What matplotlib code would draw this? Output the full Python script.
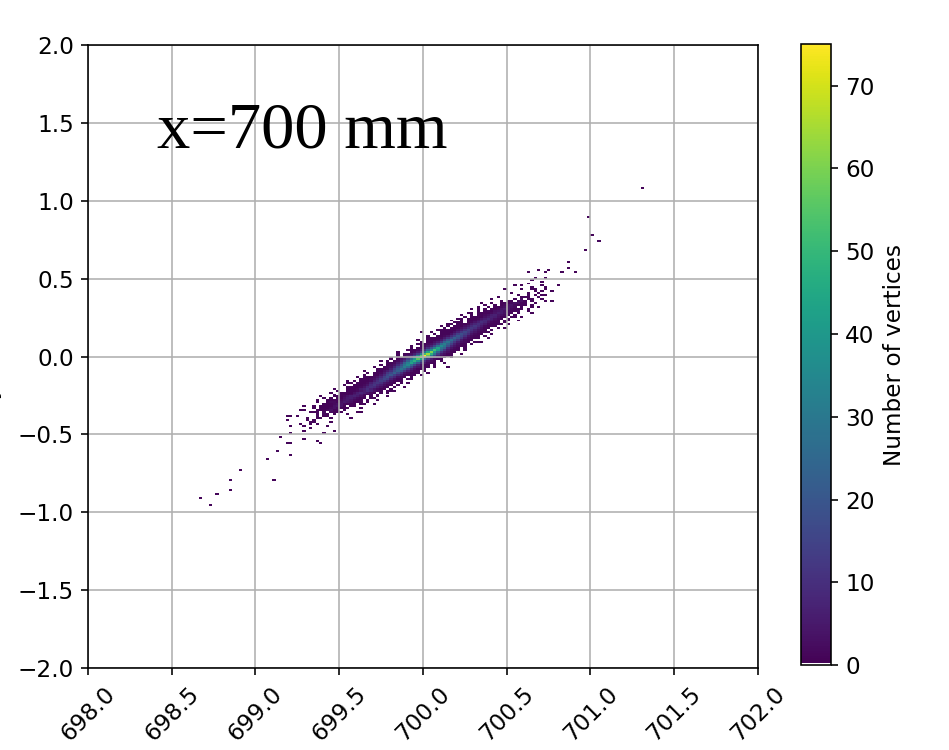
import numpy as np
import matplotlib
matplotlib.use("Agg")
import matplotlib.pyplot as plt
from matplotlib.colors import ListedColormap

plt.rcParams["font.size"] = 11.5

# binning of the vertex histogram (0.02 mm in x, 0.0125 mm in y)
x_range = (698.0, 702.0)
y_range = (-2.0, 2.0)
n_xbins = 200
n_ybins = 320

# single-character codes for the cell counts in the band rows
level_codes = "123456789abcdefghijklmnopqrstu"
level_counts = [1, 2, 3, 4, 5, 6, 7, 8, 9,
                10, 12, 14, 16, 18, 20, 23, 26, 29, 32, 36, 40,
                44, 48, 52, 56, 60, 64, 68, 72, 75]

# dense band: (y bin index, first x bin index, counts along the row), '.' = empty
band_rows = [
    (124, 54, "......1...1........."),
    (125, 55, "........1..1........"),
    (126, 56, "..........11....1..."),
    (127, 57, "..1.....1.1........."),
    (128, 58, ".......1..12..1.....1"),
    (129, 59, "1..1.....2.1........."),
    (130, 60, "........1.21.1...1..."),
    (131, 61, ".....111.2.21.1....1."),
    (132, 62, ".11...1112311.1......"),
    (133, 63, "....1.111232111...1.."),
    (134, 64, "1..1.11113431.11....."),
    (135, 65, ".....1112342111.11..1"),
    (136, 66, "..1..11213543111.1..."),
    (137, 67, ".1..11112454211.1..1."),
    (138, 68, "..1.1.113564211.11..."),
    (139, 69, "1...1112467531.1.1..1"),
    (140, 70, "...1.1112575211.1...."),
    (141, 71, ".1..11113686421.1.1.."),
    (142, 72, "..1..11124697321.111."),
    (143, 73, "1...111257a74211.1..."),
    (144, 74, "...1111248a95311.1..1"),
    (145, 75, ".1..111249b86311.1..."),
    (146, 76, "..1.11126aba5321.1.1."),
    (147, 77, "1.1.11126acb73111...."),
    (148, 78, "...111237bdc7311.11.."),
    (149, 79, ".1.111248ceb8321.1..."),
    (150, 80, "..1..1149dfc952111.1."),
    (151, 81, "..1.1125bdgda42111..1"),
    (152, 82, "1...1136aegfb6311.1.."),
    (153, 83, "...11126cfigc73111..."),
    (154, 84, ".1..1238dgjhd74211.1."),
    (155, 85, "..1.1249eikhd8311.1.."),
    (156, 86, "...1125agjmjfa5211..1"),
    (157, 87, "1.1.126bglnkfa421.1.."),
    (158, 88, "..1.136chlpmhb5211..."),
    (159, 89, ".1.1136bjnrojc7311.1."),
    (160, 90, "..1.248dkpupjd73111.."),
    (161, 91, "...1137cjornic6311..1"),
    (162, 92, "1...125bhmqlgb6311..."),
    (163, 93, "..11125agkolgb5211.1."),
    (164, 94, "..1.124afjmig9421.1.."),
    (165, 95, ".1..1248dikie84211..."),
    (166, 96, "..111237chjgc7311.1.."),
    (167, 97, "..1.1136bgifb6321.11."),
    (168, 98, "1..11125bfheb5211...."),
    (169, 99, "..111125adgeb52111..1"),
    (170, 100, ".1..11249cfda4211.1.."),
    (171, 101, "..1.11138cec94211..1."),
    (172, 102, "1..111137bdb742111..."),
    (173, 103, ".11111136aca6321.1..."),
    (174, 104, "..1.111359ba6311..1.1"),
    (175, 105, "1.1.111359b952111...."),
    (176, 106, ".11.111258a8521111.1."),
    (177, 107, "..111.1247a84211.1..."),
    (178, 108, "1..1.1124796421.11..1"),
    (179, 109, ".11.11124686321.1...."),
    (180, 110, "..1.11113575311.11.1."),
    (181, 111, "1..1.1123674321.1...."),
    (182, 112, ".11.11112465321.1...1"),
    (183, 113, "...1.11134532111..1.."),
    (184, 114, "1.1.1.1124542111.1..."),
    (185, 115, ".1..1.1113432.1..1.1."),
    (186, 116, "..1..1.12342111.1...."),
    (187, 117, "1..1..11123211..1...."),
    (188, 118, ".....1.11.231.1...1.1"),
    (189, 119, ".1......1.3.21..1...."),
    (190, 120, "..1......121..1......"),
    (191, 121, ".......1..2.1..1....."),
    (192, 122, ".........1..1........"),
    (193, 123, "..........1.1..1....."),
    (194, 124, "........1...1........"),
    (195, 125, "...........1........."),
    (196, 126, ".........1..........."),
]

# isolated vertices away from the band (x, y in mm) and their counts
tail_x = [698.67, 698.73, 698.76, 698.84, 698.85, 698.90, 699.06, 699.11,
          699.13, 699.14, 699.18, 699.20, 699.20, 699.21, 699.20, 699.28,
          699.29, 699.32, 699.36, 699.37, 699.39, 699.40, 699.43, 699.43,
          699.44, 699.46, 699.48, 699.51, 699.55, 699.60, 699.63,
          699.98, 699.85, 700.14, 700.34,
          700.39, 700.43, 700.47, 700.48, 700.52, 700.55, 700.56, 700.57,
          700.58, 700.59, 700.62, 700.62, 700.62, 700.64, 700.64, 700.65,
          700.66, 700.67, 700.68, 700.68, 700.70, 700.71, 700.72, 700.73,
          700.75, 700.80, 700.82, 700.86, 700.87, 700.90, 700.97, 700.99,
          701.00, 701.04, 701.31]
tail_y = [-0.91, -0.96, -0.88, -0.79, -0.85, -0.73, -0.66, -0.79,
          -0.60, -0.52, -0.56, -0.63, -0.50, -0.55, -0.385, -0.48,
          -0.53, -0.46, -0.54, -0.43, -0.56, -0.50, -0.385, -0.44,
          -0.29, -0.48, -0.35, -0.32, -0.17, -0.17, -0.36,
          0.16, 0.02, -0.07, 0.10,
          0.29, 0.26, 0.32, 0.43, 0.41, 0.46, 0.35, 0.29,
          0.46, 0.43, 0.41, 0.47, 0.54, 0.37, 0.45, 0.49,
          0.50, 0.43, 0.385, 0.56, 0.48, 0.40, 0.55, 0.51,
          0.56, 0.46, 0.54, 0.57, 0.605, 0.55, 0.685, 0.90,
          0.78, 0.745, 1.077]
tail_n = [1, 1, 1, 2, 1, 1, 1, 1,
          2, 1, 1, 1, 1, 1, 1, 1,
          1, 1, 1, 1, 1, 1, 1, 1,
          1, 1, 1, 1, 1, 1, 1,
          1, 1, 1, 1,
          1, 1, 1, 1, 1, 1, 1, 1,
          1, 1, 1, 1, 1, 1, 1, 1,
          1, 1, 1, 1, 1, 1, 1, 1,
          1, 1, 1, 1, 1, 1, 1, 1,
          1, 2, 1]

dx = (x_range[1] - x_range[0]) / n_xbins
dy = (y_range[1] - y_range[0]) / n_ybins
code_value = dict(zip(level_codes, level_counts))

xs, ys, ws = [], [], []
for row, col0, codes in band_rows:
    for k, ch in enumerate(codes):
        if ch == ".":
            continue
        xs.append(x_range[0] + (col0 + k + 0.5) * dx)
        ys.append(y_range[0] + (row + 0.5) * dy)
        ws.append(code_value[ch])
xs += tail_x
ys += tail_y
ws += tail_n

# viridis with the empty bins shown white
cols = plt.get_cmap("viridis", 256)(np.linspace(0, 1, 256))
cols[0] = [1, 1, 1, 1]
cmap = ListedColormap(cols)

fig = plt.figure(figsize=(949 / 145, 750 / 145), dpi=145)
ax = fig.add_axes([0.0927, 0.1093, 0.706, 0.8307])
cax = fig.add_axes([0.844, 0.113, 0.0316, 0.828])

h = ax.hist2d(xs, ys, bins=[n_xbins, n_ybins], range=[x_range, y_range],
              weights=ws, cmap=cmap)
cb = fig.colorbar(h[3], cax=cax)
cb.set_label("Number of vertices")

ax.set_xlim(*x_range)
ax.set_ylim(*y_range)
ax.set_xticks(np.arange(698.0, 702.01, 0.5))
ax.set_yticks(np.arange(-2.0, 2.01, 0.5))
ax.tick_params(axis="x", labelrotation=45)
ax.grid(True)
ax.set_ylabel("y (mm)", labelpad=8)

ax.text(0.103, 0.836, "x=700 mm", transform=ax.transAxes,
        fontsize=33, family="Liberation Serif", va="baseline")

fig.savefig("out.png", dpi=145)
